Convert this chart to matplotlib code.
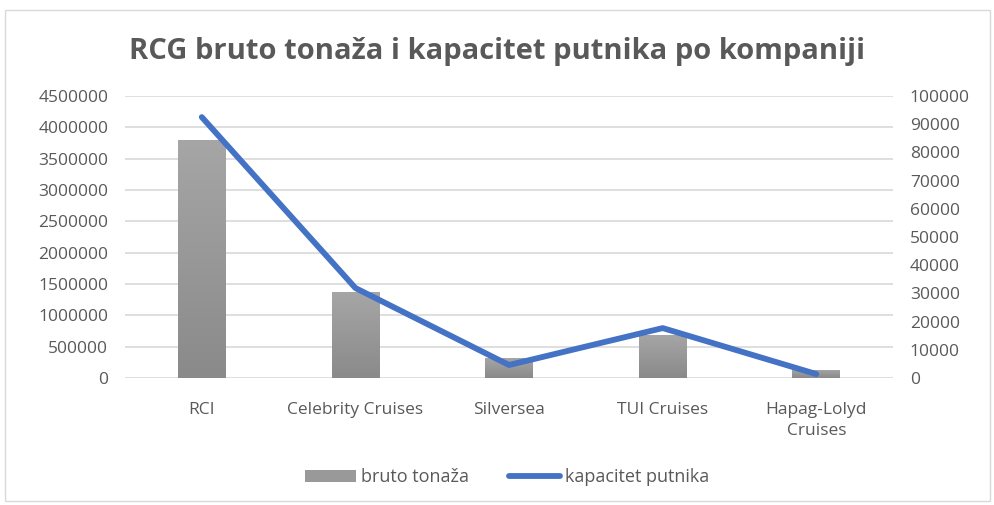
import numpy as np
import matplotlib.pyplot as plt
from matplotlib.patches import Rectangle
from matplotlib.lines import Line2D
from matplotlib.ticker import FuncFormatter
from matplotlib.colors import LinearSegmentedColormap

kompanije = ["RCI", "Celebrity Cruises", "Silversea", "TUI Cruises", "Hapag-Lolyd\nCruises"]
bruto_tonaza = [3800000, 1370000, 320000, 690000, 130000]
kapacitet_putnika = [92500, 31900, 4600, 17700, 1400]

plt.rcParams['font.family'] = ['Open Sans', 'DejaVu Sans']
siva_tekst = '#595959'

fig = plt.figure(figsize=(9.95, 5.05), dpi=100)
fig.patches.append(Rectangle((0.005, 0.008), 0.99, 0.972, transform=fig.transFigure,
                             fill=False, edgecolor='#d9d9d9', linewidth=1))

ax = fig.add_axes([0.1256, 0.2515, 0.772, 0.5585])
ax2 = ax.twinx()

x = np.arange(len(kompanije))
bars = ax.bar(x, bruto_tonaza, width=0.31, color='#999999', zorder=2, label='bruto tonaža')

# gradient na stupcima
grad = np.linspace(0, 1, 256).reshape(-1, 1)
cmap = LinearSegmentedColormap.from_list('g', ['#8a8a8a', '#a6a6a6'])
for b in bars:
    b.set_facecolor('none')
    x0, y0 = b.get_x(), b.get_y()
    w, h = b.get_width(), b.get_height()
    im = ax.imshow(grad, extent=[x0, x0 + w, y0, y0 + h], origin='lower', aspect='auto',
                   cmap=cmap, zorder=2)
    im.set_clip_path(b)

ax2.plot(x, kapacitet_putnika, color='#4472C4', linewidth=4.2, solid_capstyle='round',
         solid_joinstyle='round', zorder=3)

ax.set_xlim(-0.5, 4.5)
ax.set_ylim(0, 4500000)
ax2.set_ylim(0, 100000)
ax.set_yticks(np.arange(0, 4500001, 500000))
ax2.set_yticks(np.arange(0, 100001, 10000))
fmt = FuncFormatter(lambda v, p: f"{int(v)}")
ax.yaxis.set_major_formatter(fmt)
ax2.yaxis.set_major_formatter(fmt)
ax.set_xticks(x)
ax.set_xticklabels(kompanije, linespacing=1.45)

for a in (ax, ax2):
    for s in a.spines.values():
        s.set_visible(False)
    a.tick_params(length=0, labelsize=12.5, labelcolor=siva_tekst)
ax.tick_params(axis='y', pad=12)
ax2.tick_params(axis='y', pad=12)
ax.tick_params(axis='x', pad=17)
ax.grid(axis='y', color='#d9d9d9', linewidth=1.2, zorder=0)
ax.set_axisbelow(True)
ax2.set_zorder(ax.get_zorder() + 1)
ax2.patch.set_visible(False)

fig.text(0.5, 0.898, "RCG bruto tonaža i kapacitet putnika po kompaniji", ha='center', va='center',
         fontsize=21, fontweight='bold', color=siva_tekst)

handles = [Rectangle((0, 0), 1, 1, facecolor='#999999'),
           Line2D([0], [0], color='#4472C4', linewidth=4.2, solid_capstyle='round')]
fig.legend(handles, ['bruto tonaža', 'kapacitet putnika'], loc='center', bbox_to_anchor=(0.51, 0.055),
           ncol=2, frameon=False, fontsize=13, labelcolor=siva_tekst, handlelength=2.8,
           handletextpad=0.3, columnspacing=2.2)

fig.savefig("out.png", dpi=100)
